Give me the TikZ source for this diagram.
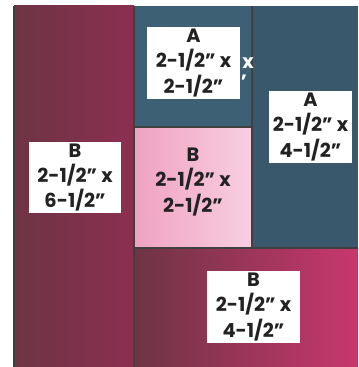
\documentclass[tikz,border=0pt]{standalone}
\usepackage{fontspec}
\setmainfont{Poppins}[UprightFont=* SemiBold, BoldFont=* Bold]
\definecolor{maroon}{HTML}{8C2F50}
\definecolor{maroondark}{HTML}{6E3444}
\definecolor{magenta}{HTML}{C8376E}
\definecolor{teal}{HTML}{3E6074}
\definecolor{pinkl}{HTML}{EFA2C2}
\definecolor{pinkr}{HTML}{F8CFE0}
\definecolor{ink}{HTML}{222222}
\tikzset{
  seam/.style={draw=black!75, line width=0.8pt},
  label/.style={fill=white, text=ink, align=center, inner sep=0pt,
    font=\bfseries\fontsize{14.5}{18.8}\selectfont},
  tag/.style={text=white, inner sep=0pt, font=\bfseries\fontsize{14.5}{18.8}\selectfont}
}
\begin{document}
\begin{tikzpicture}[x=0.75pt,y=-0.75pt]
\useasboundingbox (0,0) rectangle (358,367);
% pieces
\shade[left color=maroondark, right color=maroon] (14,6) rectangle (134,367);
\fill[teal] (134,6) rectangle (252,127);
\shade[left color=pinkl, right color=pinkr] (134,127) rectangle (252,248);
\fill[teal!92!black] (252,6) rectangle (358,248);
\shade[left color=maroondark, right color=magenta] (134,248) rectangle (358,367);
% seams
\draw[seam] (14,6) -- (14,367);
\draw[seam] (134,6) -- (134,367);
\draw[seam] (252,6) -- (252,248);
\draw[seam] (134,127) -- (252,127);
\draw[seam] (134,248) -- (358,248);
% labels
\node[label, minimum width=93*0.75pt, minimum height=72*0.75pt] (topA) at (193.5,63) {A\\2-1/2” x\\2-1/2”};
\node[tag] (stray) at (248,63) {x};
\node[tag] (tick) at (244,82) {’};
\node[label, minimum width=83*0.75pt, minimum height=72*0.75pt] (rightA) at (310.5,127) {A\\2-1/2” x\\4-1/2”};
\node[label, minimum width=92*0.75pt, minimum height=71*0.75pt] (leftB) at (75,177.5) {B\\2-1/2” x\\6-1/2”};
\node[label, fill=none] (pinkB) at (193,182) {B\\2-1/2” x\\2-1/2”};
\node[label, minimum width=93*0.75pt, minimum height=72*0.75pt] (bottomB) at (253.5,307) {B\\2-1/2” x\\4-1/2”};
\end{tikzpicture}
\end{document}
